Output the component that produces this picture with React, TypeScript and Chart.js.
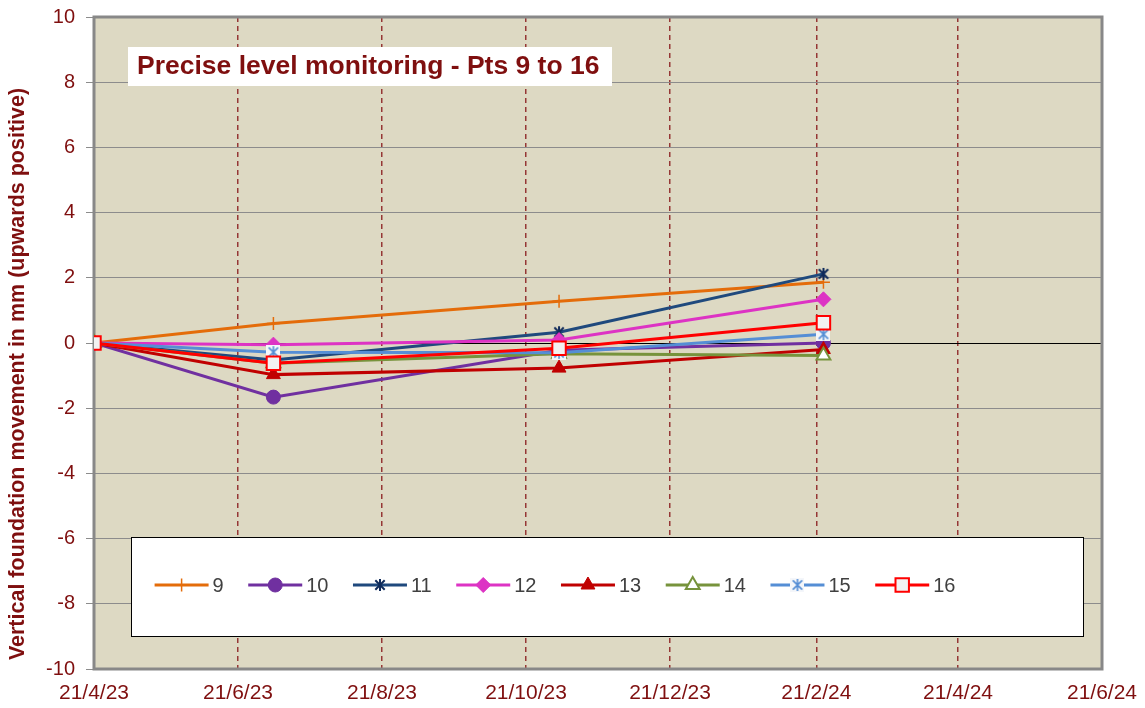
import React, { useEffect, useRef } from 'react';
import { Chart, registerables } from 'chart.js';
import { drawPoint } from 'chart.js/helpers';

Chart.register(...registerables);

// ---- data ----
const surveyDates = ['2023-04-21', '2023-07-06', '2023-11-04', '2024-02-24'];
const seriesNames = ['9', '10', '11', '12', '13', '14', '15', '16'];
const pt9 = [0, 0.6, 1.28, 1.86];
const pt10 = [0, -1.66, -0.22, 0.0];
const pt11 = [0, -0.52, 0.33, 2.12];
const pt12 = [0, -0.05, 0.09, 1.34];
const pt13 = [0, -0.97, -0.77, -0.2];
const pt14 = [0, -0.62, -0.33, -0.38];
const pt15 = [0, -0.28, -0.3, 0.27];
const pt16 = [0, -0.62, -0.16, 0.62];
const tickDates = ['2023-04-21', '2023-06-21', '2023-08-21', '2023-10-21', '2023-12-21', '2024-02-21', '2024-04-21', '2024-06-21'];
const tickLabels = ['21/4/23', '21/6/23', '21/8/23', '21/10/23', '21/12/23', '21/2/24', '21/4/24', '21/6/24'];
const yMin = -10;
const yMax = 10;
const yStep = 2;
const chartTitle = 'Precise level monitoring - Pts 9 to 16';
const yTitle = 'Vertical foundation movement in mm (upwards positive)';

const FONT = "'Liberation Sans', Arial, sans-serif";
const DARK_RED = '#7F0F0F';

const dayNo = (s: string) => {
  const [y, m, d] = s.split('-').map(Number);
  return Date.UTC(y, m - 1, d) / 86400000;
};
const day0 = dayNo(tickDates[0]);
const xOf = (s: string) => dayNo(s) - day0;

function asterisk(color: string, size: number, lw: number, bg?: string) {
  const c = document.createElement('canvas');
  c.width = size;
  c.height = size;
  const g = c.getContext('2d') as CanvasRenderingContext2D;
  if (bg) {
    g.fillStyle = bg;
    g.fillRect(0, 0, size, size);
  }
  g.strokeStyle = color;
  g.lineWidth = lw;
  const m = size / 2;
  const r = size / 2 - 1;
  const d = r * 0.78;
  g.beginPath();
  g.moveTo(m, m - r);
  g.lineTo(m, m + r);
  g.moveTo(m - d, m - d);
  g.lineTo(m + d, m + d);
  g.moveTo(m + d, m - d);
  g.lineTo(m - d, m + d);
  g.stroke();
  return c;
}

const decorPlugin = {
  id: 'decor',
  beforeDraw(chart: any) {
    const { ctx, chartArea: a } = chart;
    ctx.save();
    ctx.fillStyle = '#DDD9C3';
    ctx.fillRect(a.left, a.top, a.right - a.left, a.bottom - a.top);
    // y axis title
    ctx.translate(18, 374);
    ctx.rotate(-Math.PI / 2);
    ctx.fillStyle = DARK_RED;
    ctx.font = `bold 21.5px ${FONT}`;
    ctx.textAlign = 'center';
    ctx.textBaseline = 'middle';
    ctx.fillText(yTitle, 0, 0);
    ctx.restore();
  },
  beforeDatasetsDraw(chart: any) {
    const { ctx, chartArea: a } = chart;
    ctx.save();
    ctx.strokeStyle = '#888888';
    ctx.lineWidth = 3;
    ctx.strokeRect(a.left, a.top, a.right - a.left, a.bottom - a.top);
    ctx.restore();
  },
  afterDatasetsDraw(chart: any) {
    const { ctx, chartArea: a } = chart;
    ctx.save();
    // title box
    ctx.fillStyle = '#FFFFFF';
    ctx.fillRect(a.left + 34, a.top + 30, 484, 39);
    ctx.fillStyle = DARK_RED;
    ctx.font = `bold 26.5px ${FONT}`;
    ctx.textAlign = 'left';
    ctx.textBaseline = 'middle';
    ctx.fillText(chartTitle, a.left + 43, a.top + 50);

    // legend box
    const bx = a.left + 37;
    const by = a.top + 520;
    ctx.fillStyle = '#FFFFFF';
    ctx.fillRect(bx, by, 952, 99);
    ctx.strokeStyle = '#000000';
    ctx.lineWidth = 1;
    ctx.strokeRect(bx + 0.5, by + 0.5, 952, 99);

    const ly = by + 48;
    let x = bx + 23.6;
    ctx.font = `20px ${FONT}`;
    chart.data.datasets.forEach((ds: any) => {
      ctx.strokeStyle = ds.borderColor;
      ctx.lineWidth = ds.borderWidth;
      ctx.beginPath();
      ctx.moveTo(x, ly);
      ctx.lineTo(x + 54, ly);
      ctx.stroke();
      ctx.save();
      ctx.fillStyle = ds.pointBackgroundColor;
      ctx.strokeStyle = ds.pointBorderColor;
      ctx.lineWidth = ds.pointBorderWidth;
      drawPoint(ctx, { pointStyle: ds.pointStyle, radius: ds.pointRadius, rotation: 0, borderWidth: ds.pointBorderWidth } as any, x + 27, ly);
      ctx.restore();
      ctx.fillStyle = '#404040';
      ctx.textAlign = 'left';
      ctx.textBaseline = 'middle';
      ctx.fillText(ds.label, x + 58, ly + 1);
      x += 54 + 4 + ctx.measureText(ds.label).width + 24.5;
    });
    ctx.restore();
  },
};

export default function App() {
  const ref = useRef<HTMLCanvasElement | null>(null);

  useEffect(() => {
    document.body.style.margin = '0';
    const values = [pt9, pt10, pt11, pt12, pt13, pt14, pt15, pt16];
    const colors = ['#E46C0A', '#7030A0', '#1F497D', '#DD33C4', '#C00000', '#77933C', '#558ED5', '#FF0000'];
    const star11 = asterisk('#0F2A5A', 14, 2);
    const star15 = asterisk('#558ED5', 14, 1.6, '#F4F6FA');
    const markers: any[] = [
      { pointStyle: 'cross', pointRadius: 6.5, pointBackgroundColor: colors[0], pointBorderColor: colors[0], pointBorderWidth: 1.5 },
      { pointStyle: 'circle', pointRadius: 7, pointBackgroundColor: colors[1], pointBorderColor: colors[1], pointBorderWidth: 1 },
      { pointStyle: star11, pointRadius: 7, pointBackgroundColor: colors[2], pointBorderColor: colors[2], pointBorderWidth: 1 },
      { pointStyle: 'rectRot', pointRadius: 7.5, pointBackgroundColor: colors[3], pointBorderColor: colors[3], pointBorderWidth: 1 },
      { pointStyle: 'triangle', pointRadius: 8, pointBackgroundColor: colors[4], pointBorderColor: colors[4], pointBorderWidth: 1 },
      { pointStyle: 'triangle', pointRadius: 8, pointBackgroundColor: '#FFFFFF', pointBorderColor: colors[5], pointBorderWidth: 2 },
      { pointStyle: star15, pointRadius: 7, pointBackgroundColor: colors[6], pointBorderColor: colors[6], pointBorderWidth: 1 },
      { pointStyle: 'rect', pointRadius: 9.5, pointBackgroundColor: '#F2F2F2', pointBorderColor: colors[7], pointBorderWidth: 2 },
    ];
    const datasets = seriesNames.map((name, i) => ({
      label: name,
      data: values[i].map((v, j) => ({ x: xOf(surveyDates[j]), y: v })),
      borderColor: colors[i],
      backgroundColor: colors[i],
      borderWidth: 3,
      tension: 0,
      order: -i,
      ...markers[i],
    }));

    const tickValues = tickDates.map(xOf);

    const chart = new Chart(ref.current as HTMLCanvasElement, {
      type: 'line',
      data: { datasets },
      plugins: [decorPlugin],
      options: {
        animation: false,
        responsive: false,
        devicePixelRatio: 1,
        layout: { padding: { top: 17, right: 43, left: 0, bottom: 0 } },
        plugins: { legend: { display: false }, tooltip: { enabled: false } },
        scales: {
          x: {
            type: 'linear',
            min: tickValues[0],
            max: tickValues[tickValues.length - 1],
            afterBuildTicks: (s: any) => {
              s.ticks = tickValues.map((v) => ({ value: v }));
            },
            afterFit: (s: any) => {
              s.height = 39;
              s.paddingLeft = 0;
              s.paddingRight = 0;
            },
            grid: { color: '#953735', lineWidth: 1.5, drawTicks: false },
            border: { display: false, dash: [5, 4] },
            ticks: {
              autoSkip: false,
              maxRotation: 0,
              minRotation: 0,
              padding: 12,
              color: DARK_RED,
              font: { family: FONT, size: 21 },
              callback: (v: any) => {
                const k = tickValues.indexOf(Number(v));
                return k >= 0 ? tickLabels[k] : '';
              },
            },
          },
          y: {
            type: 'linear',
            min: yMin,
            max: yMax,
            afterFit: (s: any) => {
              s.width = 94;
              s.paddingTop = 0;
              s.paddingBottom = 0;
            },
            grid: {
              color: (c: any) => (c.tick && c.tick.value === 0 ? '#000000' : '#8C8C8C'),
              tickColor: '#8C8C8C',
              lineWidth: 1,
              tickLength: 8,
            },
            border: { display: false },
            ticks: {
              stepSize: yStep,
              padding: 11,
              color: DARK_RED,
              font: { family: FONT, size: 20 },
            },
          },
        },
      } as any,
    });
    return () => chart.destroy();
  }, []);

  return (
    <div style={{ width: 1145, height: 708 }}>
      <canvas ref={ref} width={1145} height={708} style={{ display: 'block' }} />
    </div>
  );
}
